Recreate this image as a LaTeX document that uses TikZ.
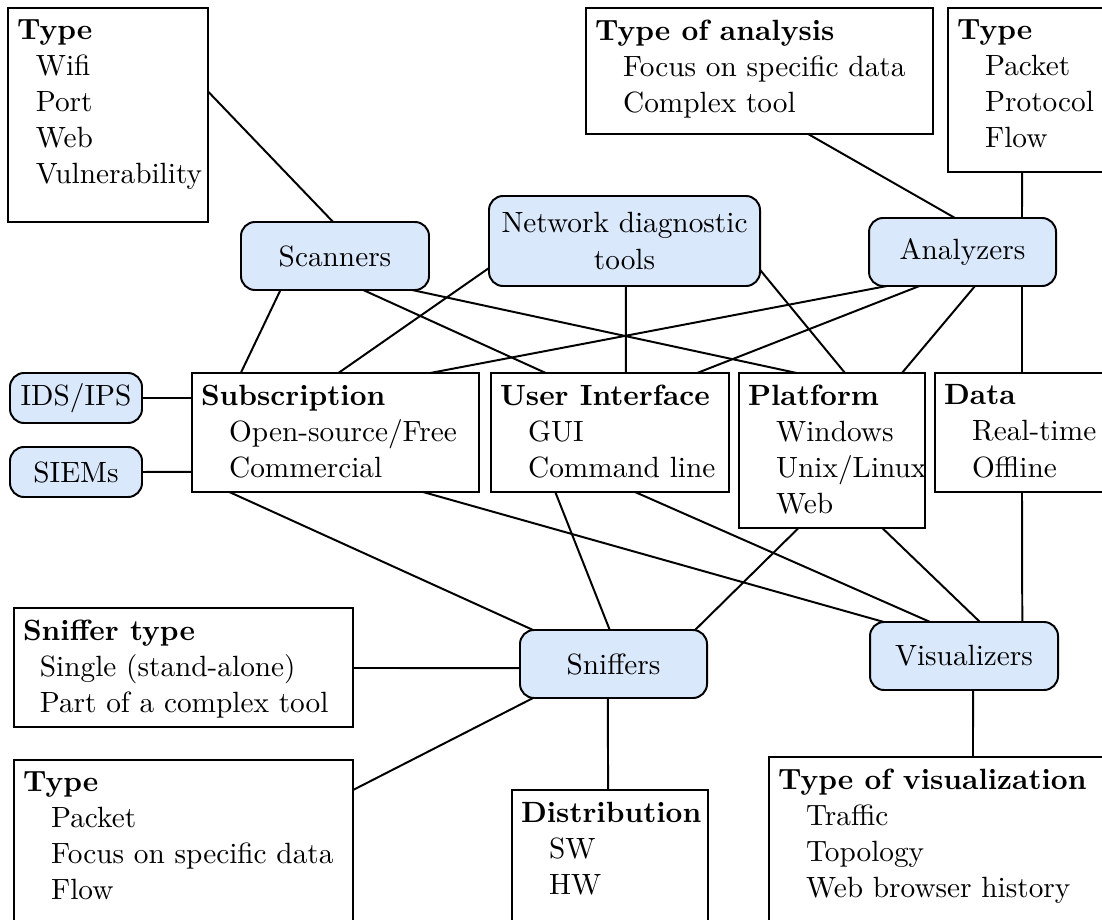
\documentclass[tikz,border=0pt]{standalone}
\usetikzlibrary{calc}
\definecolor{toolblue}{RGB}{218,232,252}
\newdimen\px \px=0.355pt
\newcommand{\ptop}[2]{($(#1.north west)!#2!(#1.north east)$)}
\newcommand{\pbot}[2]{($(#1.south west)!#2!(#1.south east)$)}
\newcommand{\pleft}[2]{($(#1.north west)!#2!(#1.south west)$)}
\newcommand{\pright}[2]{($(#1.north east)!#2!(#1.south east)$)}
\newcommand{\indq}{\hspace*{10pt}}
\tikzset{
  infobox/.style={draw, line width=0.7pt, anchor=north west, inner sep=0pt, outer sep=0pt},
  lbl/.style={anchor=north west, align=left, inner xsep=3pt, inner ysep=4pt, font=\fontsize{10.4}{12.8}\selectfont},
  tool/.style={draw, fill=toolblue, rounded corners=5pt, line width=0.7pt, anchor=north west, inner sep=0pt, outer sep=0pt, align=center, font=\fontsize{10.4}{13}\selectfont},
  conn/.style={line width=0.7pt}
}
\begin{document}
\begin{tikzpicture}[x=0.355pt, y=-0.355pt]
\clip (0,0) rectangle (1102,919);
% info boxes
\node[infobox, minimum width=200\px, minimum height=214\px,
  label={[lbl]north west:{\textbf{Type}\\\hspace*{6.7pt}Wifi\\\hspace*{6.7pt}Port\\\hspace*{6.7pt}Web\\\hspace*{6.7pt}Vulnerability}}] (tsc) at (8,8) {};
\node[infobox, minimum width=347\px, minimum height=126\px,
  label={[lbl]north west:{\textbf{Type of analysis}\\\indq Focus on specific data\\\indq Complex tool}}] (tan) at (586,8) {};
\node[infobox, minimum width=182\px, minimum height=164\px,
  label={[lbl]north west:{\textbf{Type}\\\indq Packet\\\indq Protocol\\\indq Flow}}] (tan2) at (948,8) {};
\node[infobox, minimum width=287\px, minimum height=119\px,
  label={[lbl]north west:{\textbf{Subscription}\\\indq Open-source/Free\\\indq Commercial}}] (sub) at (192,373) {};
\node[infobox, minimum width=238\px, minimum height=119\px,
  label={[lbl]north west:{\textbf{User Interface}\\\indq GUI\\\indq Command line}}] (ui) at (491,373) {};
\node[infobox, minimum width=186\px, minimum height=155\px,
  label={[lbl]north west:{\textbf{Platform}\\\indq Windows\\\indq Unix/Linux\\\indq Web}}] (plat) at (739,373) {};
\node[infobox, minimum width=195\px, minimum height=119\px,
  label={[lbl]north west:{\textbf{Data}\\\indq Real-time\\\indq Offline}}] (data) at (935,373) {};
\node[infobox, minimum width=339\px, minimum height=119\px,
  label={[lbl]north west:{\textbf{Sniffer type}\\\hspace*{6pt}Single (stand-alone)\\\hspace*{6pt}Part of a complex tool}}] (snt) at (14,608) {};
\node[infobox, minimum width=339\px, minimum height=190\px,
  label={[lbl]north west:{\textbf{Type}\\\indq Packet\\\indq Focus on specific data\\\indq Flow}}] (styp) at (14,760) {};
\node[infobox, minimum width=196\px, minimum height=160\px,
  label={[lbl]north west:{\textbf{Distribution}\\\indq SW\\\indq HW}}] (dist) at (512,790) {};
\node[infobox, minimum width=361\px, minimum height=193\px,
  label={[lbl]north west:{\textbf{Type of visualization}\\\indq Traffic\\\indq Topology\\\indq Web browser history}}] (tvis) at (769,757) {};
% tool nodes
\node[tool, minimum width=188\px, minimum height=68\px] (scan) at (241,222) {Scanners};
\node[tool, minimum width=271\px, minimum height=90\px] (ndt) at (489,196) {Network diagnostic\\tools};
\node[tool, minimum width=187\px, minimum height=68\px] (anl) at (869,218) {Analyzers};
\node[tool, minimum width=132\px, minimum height=50\px] (ids) at (10,373) {IDS/IPS};
\node[tool, minimum width=132\px, minimum height=50\px] (siem) at (10,447) {SIEMs};
\node[tool, minimum width=187\px, minimum height=68\px] (snf) at (520,630) {Sniffers};
\node[tool, minimum width=188\px, minimum height=68\px] (vis) at (870,622) {Visualizers};
% connectors
\draw[conn] \pright{tsc}{0.39} -- \ptop{scan}{0.49};
\draw[conn] \pbot{scan}{0.21} -- \ptop{sub}{0.17};
\draw[conn] \pbot{scan}{0.65} -- \ptop{ui}{0.23};
\draw[conn] \pbot{scan}{0.91} -- \ptop{plat}{0.31};
\draw[conn] \pleft{ndt}{0.8} -- \ptop{sub}{0.51};
\draw[conn] \pbot{ndt}{0.505} -- \ptop{ui}{0.567};
\draw[conn] \pright{ndt}{0.82} -- \ptop{plat}{0.57};
\draw[conn] \pbot{anl}{0.096} -- \ptop{sub}{0.83};
\draw[conn] \pbot{anl}{0.27} -- \ptop{ui}{0.866};
\draw[conn] \pbot{anl}{0.567} -- \ptop{plat}{0.876};
\draw[conn] \pbot{tan}{0.64} -- \ptop{anl}{0.46};
\draw[conn] \pbot{tan2}{0.407} -- \ptop{anl}{0.818};
\draw[conn] \pbot{anl}{0.818} -- \ptop{data}{0.446};
\draw[conn] \pbot{data}{0.446} -- \ptop{vis}{0.81};
\draw[conn] (ids.east) -- \pleft{sub}{0.21};
\draw[conn] (siem.east) -- \pleft{sub}{0.83};
\draw[conn] \pbot{sub}{0.13} -- \ptop{snf}{0.07};
\draw[conn] \pbot{sub}{0.805} -- \ptop{vis}{0.074};
\draw[conn] \pbot{ui}{0.27} -- \ptop{snf}{0.48};
\draw[conn] \pbot{ui}{0.605} -- \ptop{vis}{0.32};
\draw[conn] \pbot{plat}{0.32} -- \ptop{snf}{0.936};
\draw[conn] \pbot{plat}{0.77} -- \ptop{vis}{0.585};
\draw[conn] \pright{snt}{0.504} -- \pleft{snf}{0.56};
\draw[conn] \pright{styp}{0.158} -- \pbot{snf}{0.07};
\draw[conn] \pbot{snf}{0.47} -- \ptop{dist}{0.49};
\draw[conn] \pbot{vis}{0.548} -- \ptop{tvis}{0.565};
\end{tikzpicture}
\end{document}
